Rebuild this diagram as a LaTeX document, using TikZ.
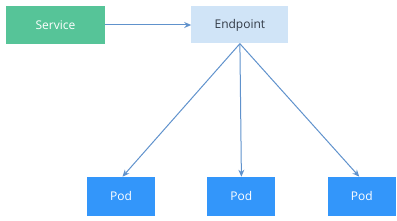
\documentclass[tikz,border=0pt]{standalone}
\usepackage{fontspec}
\setmainfont{Open Sans}
\usetikzlibrary{positioning, arrows.meta}

\definecolor{svcgreen}{RGB}{86,196,152}
\definecolor{eplight}{RGB}{208,228,247}
\definecolor{podblue}{RGB}{51,150,250}
\definecolor{linkblue}{RGB}{96,146,204}
\definecolor{textdark}{RGB}{50,58,70}

\begin{document}
\begin{tikzpicture}[
    x=1pt, y=1pt,
    font=\fontsize{12}{14}\selectfont,
    >={Stealth[length=7pt, width=6pt]},
    service/.style={
        rectangle, fill=svcgreen, text=white,
        minimum width=99pt, minimum height=38pt, inner sep=0pt
    },
    endpoint/.style={
        rectangle, fill=eplight, text=textdark,
        minimum width=97pt, minimum height=37pt, inner sep=0pt
    },
    pod/.style={
        rectangle, fill=podblue, text=white,
        minimum width=68pt, minimum height=39pt, inner sep=0pt
    },
    link/.style={->, draw=linkblue, line width=1pt}
]
\useasboundingbox (0,0) rectangle (397,220);

% ============ TOP ROW ============
\node[service] (svc) at (55.5,195) {Service};
\node[endpoint, right=86pt of svc] (ep) {Endpoint};

% ============ PODS ============
\node[pod, below=133pt of ep, xshift=1.5pt] (pod2) {Pod};
\node[pod, left=52pt of pod2] (pod1) {Pod};
\node[pod, right=52pt of pod2] (pod3) {Pod};

% ============ ARROWS ============
\draw[link] (svc) -- (ep);
\draw[link] (ep.south) -- ([xshift=1.5pt]pod1.north);
\draw[link] (ep.south) -- (pod2.north);
\draw[link] (ep.south) -- ([xshift=-2.5pt]pod3.north);

\end{tikzpicture}
\end{document}
